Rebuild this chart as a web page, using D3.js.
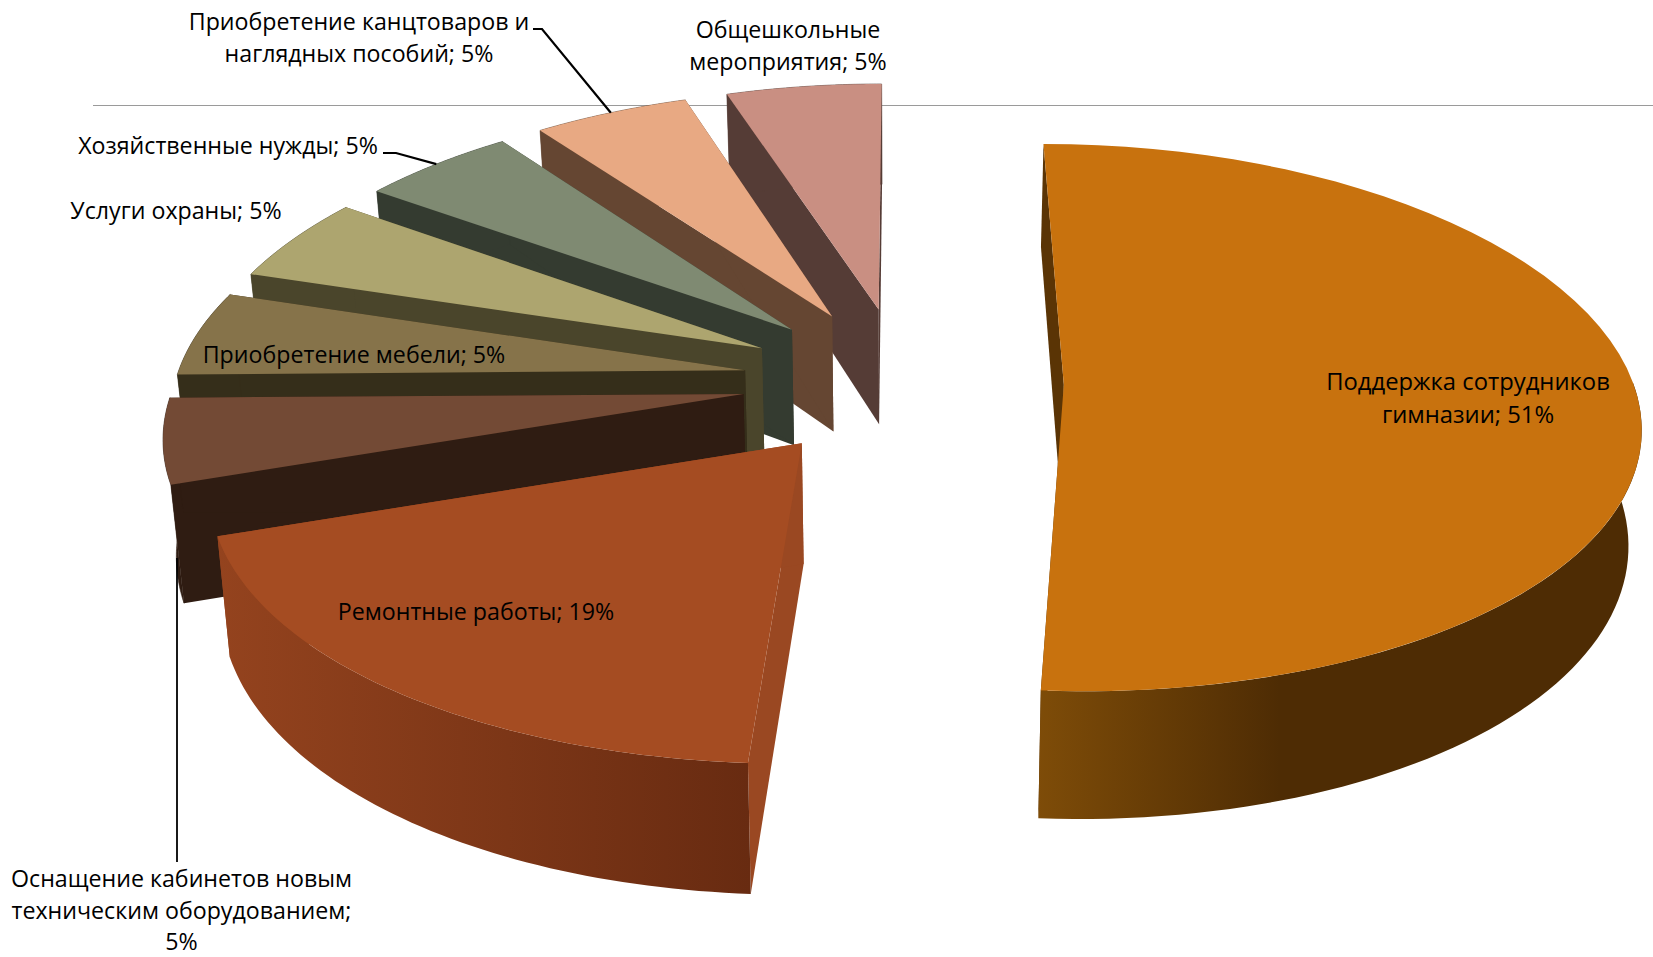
<!DOCTYPE html>
<html lang="ru">
<head>
<meta charset="utf-8">
<script src="https://cdn.jsdelivr.net/npm/d3@7/dist/d3.min.js"></script>
<style>
html,body{margin:0;padding:0;background:#fff;overflow:hidden}
svg{display:block}
text{font-family:"Open Sans","Noto Sans",sans-serif;font-size:23.2px;fill:#000;text-anchor:middle}
</style>
</head>
<body>
<svg id="chart" width="1653" height="957"></svg>
<script>
// --- data ---
const categories = [
  "Поддержка сотрудников гимназии",
  "Ремонтные работы",
  "Оснащение кабинетов новым техническим оборудованием",
  "Приобретение мебели",
  "Услуги охраны",
  "Хозяйственные нужды",
  "Приобретение канцтоваров и наглядных пособий",
  "Общешкольные мероприятия"
];
const values = [51, 19, 5, 5, 5, 5, 5, 5];
const faceColors = ["#C8720E","#A54C22","#734A35","#86734A","#ADA56F","#7F8A72","#E8A983","#C98F82"];
const wallColors = [["#7E4C08","#4E2C04"],["#94431E","#682B11"],["#2F1C12","#2F1C12"],["#352E1A","#352E1A"],
                    ["#4A452B","#4A452B"],["#343B30","#343B30"],["#654632","#654632"],["#553C36","#553C36"]];
const sideColors = ["#5A3405","#9A4822","#2F1C12","#352E1A","#4A452B","#343B30","#654632","#553C36"];
const labelLines = [
  ["Поддержка сотрудников","гимназии; 51%"],
  ["Ремонтные работы; 19%"],
  ["Оснащение кабинетов новым","техническим оборудованием;","5%"],
  ["Приобретение мебели; 5%"],
  ["Услуги охраны; 5%"],
  ["Хозяйственные нужды; 5%"],
  ["Приобретение канцтоваров и","наглядных пособий; 5%"],
  ["Общешкольные","мероприятия; 5%"]
];
const labelX = [1468,476,181.5,354,176,228,359,788];
const labelY = [390,620,887,363,219,154,30,38];
const lineGap = [33,33,31.7,33,33,33,32,32];
const labelSize = [23.8,23.2,23.2,23.2,23.2,23.2,23.2,23.2];

// --- projection of the tilted pie plane ---
const X0=903, Y0=386, A=574, B=270, KX=0.12, KY=0.107, D=114, SHRINK=0.018, EXPLODE=0.274;
const APEX_EXPLODE=0.28, APEX_LIFT=4;
const project = (u,v,z) => {
  const x = X0+A*u/(1+KX*v), w = 1+KY*v;
  return [x-SHRINK*(x-X0)*z, Y0-B*v/w+D*z/w];
};
const arcs = d3.pie().sort(null).value(d=>d)(values);
const point = (a,r,mid,z) => {
  const ex = r===0 ? APEX_EXPLODE : EXPLODE;
  const u = ex*Math.sin(mid)+r*Math.sin(a), v = ex*Math.cos(mid)+r*Math.cos(a);
  const p = project(u,v,z);
  if(r===0 && z===0) p[1] -= APEX_LIFT;
  return p;
};
const line = d3.line();
const svg = d3.select("#chart");
const defs = svg.append("defs");

// horizontal rule behind the pie
svg.append("line").attr("x1",93).attr("x2",1653).attr("y1",105.5).attr("y2",105.5)
   .attr("stroke","#9a9a9a").attr("stroke-width",1.2);

const angles = (s,e) => d3.range(0,61).map(i=>s+(e-s)*i/60);
// painter's order: far small slices first, then towards the viewer; big slice is separate
const order = [7,6,5,4,3,2,1,0];
order.forEach(i=>{
  const d = arcs[i], s=d.startAngle, e=d.endAngle, mid=(s+e)/2;
  const g = svg.append("g").attr("class","slice");
  const grad = defs.append("linearGradient").attr("id","w"+i);
  grad.append("stop").attr("offset","0%").attr("stop-color",wallColors[i][0]);
  grad.append("stop").attr("offset",i===0?"40%":"100%").attr("stop-color",wallColors[i][1]);
  if(i===0) grad.append("stop").attr("offset","100%").attr("stop-color",wallColors[i][1]);
  const quad = a => [point(a,0,mid,0),point(a,1,mid,0),point(a,1,mid,1),point(a,0,mid,1)];
  g.append("path").attr("d",line(quad(s))+"Z").attr("fill",sideColors[i]);
  g.append("path").attr("d",line(quad(e))+"Z").attr("fill",sideColors[i]);
  // near part of the rim only: it carries the left-to-right shading
  const nearS = i===0 ? Math.PI/2-0.02 : s;
  const top = angles(nearS,e).map(a=>point(a,1,mid,0));
  const bot = angles(nearS,e).map(a=>point(a,1,mid,1)).reverse();
  g.append("path").attr("d",line(top.concat(bot))+"Z").attr("fill","url(#w"+i+")")
   .attr("stroke",i>1?wallColors[i][0]:"none").attr("stroke-width",0.6);
  const face = [point(0,0,mid,0)].concat(angles(s,e).map(a=>point(a,1,mid,0)));
  g.append("path").attr("d",line(face)+"Z").attr("fill",faceColors[i]);
});

// leader lines
const lead = (pts,w)=>svg.append("path").attr("d",line(pts)).attr("fill","none").attr("stroke","#000").attr("stroke-width",w);
const ptMid = i => { const m=(arcs[i].startAngle+arcs[i].endAngle)/2; return point(m,1,m,0); };
lead([[533,29],[542,29],ptMid(6)],2.2);
lead([[383,153],[396,153],ptMid(5)],2.2);
lead([[177,558],[177,862]],1.8);

// labels
labelLines.forEach((ls,i)=>{
  const t = svg.append("text").attr("data-cat",categories[i]).style("font-size",labelSize[i]+"px");
  ls.forEach((l,j)=>t.append("tspan").attr("x",labelX[i]).attr("y",labelY[i]+j*lineGap[i]).text(l));
});
</script>
</body>
</html>
